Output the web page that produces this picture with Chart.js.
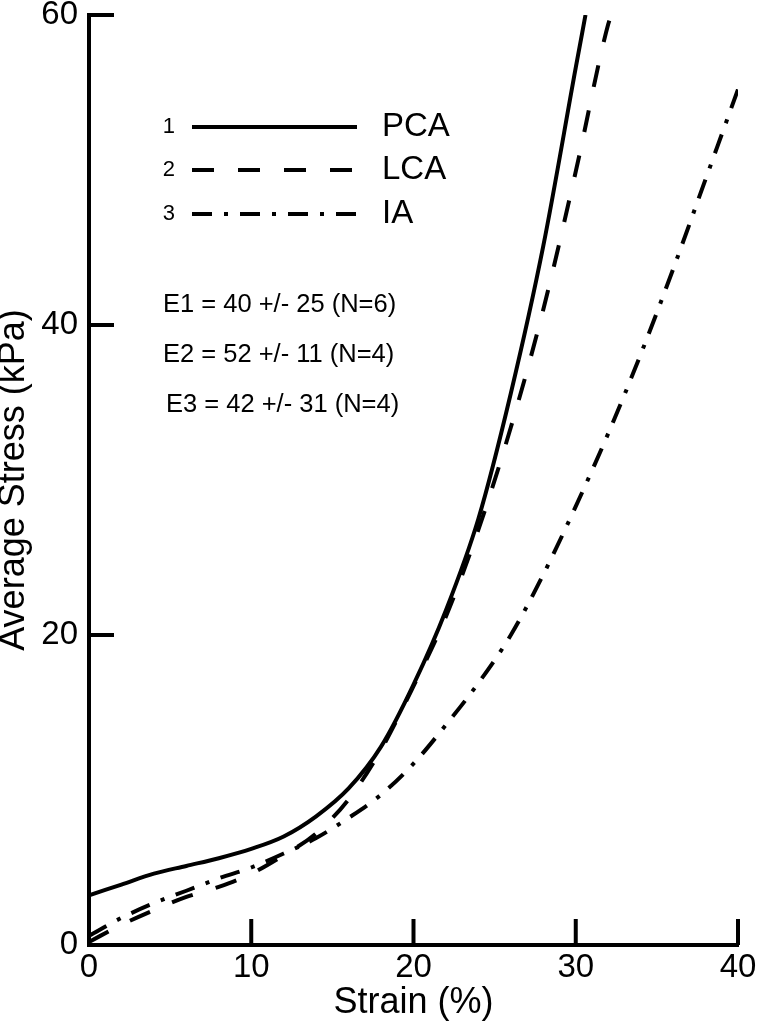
<!DOCTYPE html>
<html>
<head>
<meta charset="utf-8">
<title>Average Stress vs Strain</title>
<script src="https://cdn.jsdelivr.net/npm/chart.js@4.4.1/dist/chart.umd.min.js"></script>
<style>
  html, body { margin: 0; padding: 0; background: #fff; }
  #contenedor { width: 759px; height: 1028px; }
</style>
</head>
<body>
<div id="contenedor"><canvas id="curvasChart"></canvas></div>
<script>
// Datos (deformación en %, tensión en kPa)
const deformacionPCA = [0, 2, 4, 6, 8, 10, 12, 14, 16, 18, 20, 22, 24, 26, 28, 30, 30.6];
const tensionPCA     = [3.2, 3.9, 4.6, 5.1, 5.6, 6.2, 7.0, 8.3, 10.1, 12.8, 16.8, 21.6, 27.5, 35.6, 45.1, 56.6, 60];

const deformacionLCA = [0, 2, 4, 6, 8, 10, 12, 14, 16, 18, 20, 22, 24, 26, 28, 30, 32, 32.2];
const tensionLCA     = [0.2, 1.3, 2.25, 3.1, 3.75, 4.6, 5.8, 7.2, 9.4, 12.6, 16.7, 21.2, 26.8, 33.4, 41.0, 49.9, 59.4, 60];

const deformacionIA  = [0, 2, 4, 6, 8, 10, 12, 14, 16, 18, 20, 22, 24, 26, 28, 30, 32, 34, 36, 38, 40];
const tensionIA      = [0.6, 1.75, 2.7, 3.5, 4.3, 5.0, 5.9, 6.9, 8.2, 9.7, 11.7, 14.2, 16.9, 20.0, 23.9, 28.3, 33.0, 38.1, 43.6, 49.4, 55.2];

const nombresSeries = ['PCA', 'LCA', 'IA'];
const ticksX = [0, 10, 20, 30, 40];
const ticksY = [0, 20, 40, 60];
const notasModulo = ['E1 = 40 +/- 25 (N=6)', 'E2 = 52 +/- 11 (N=4)', 'E3 = 42 +/- 31 (N=4)'];

const FUENTE = "'Liberation Sans', Arial, Helvetica, sans-serif";

// Junta dos listas en puntos {x, y}
function puntos(xs, ys) {
    return xs.map((x, i) => ({ x: x, y: ys[i] }));
}

// Marcas de los ejes hacia dentro (mayores y menores)
const marcasEjes = {
    id: 'marcasEjes',
    afterDraw(chart) {
        const ctx = chart.ctx;
        const area = chart.chartArea;
        const ejeX = chart.scales.x;
        const ejeY = chart.scales.y;
        ctx.save();
        ctx.strokeStyle = '#000';
        ejeX.ticks.forEach(t => {
            if (t.value === 0) return;
            const mayor = ticksX.includes(t.value);
            const px = ejeX.getPixelForValue(t.value);
            ctx.lineWidth = mayor ? 4 : 1.5;
            ctx.beginPath();
            ctx.moveTo(px, area.bottom);
            ctx.lineTo(px, area.bottom - (mayor ? 26 : 14));
            ctx.stroke();
        });
        ejeY.ticks.forEach(t => {
            if (t.value === 0) return;
            const mayor = ticksY.includes(t.value);
            const py = ejeY.getPixelForValue(t.value);
            ctx.lineWidth = mayor ? 4 : 1.5;
            ctx.beginPath();
            ctx.moveTo(area.left, py);
            ctx.lineTo(area.left + (mayor ? 25 : 12), py);
            ctx.stroke();
        });
        ctx.restore();
    }
};

// Leyenda numerada y textos de módulo dentro del gráfico
const leyendaNumerada = {
    id: 'leyendaNumerada',
    afterDraw(chart) {
        const ctx = chart.ctx;
        const filas = [127, 170, 214];
        ctx.save();
        ctx.fillStyle = '#000';
        ctx.strokeStyle = '#000';
        ctx.textBaseline = 'middle';
        chart.data.datasets.forEach((ds, i) => {
            const y = filas[i];
            ctx.font = '22px ' + FUENTE;
            ctx.textAlign = 'right';
            ctx.fillText(String(i + 1), 175, y);
            ctx.setLineDash(ds.borderDash || []);
            ctx.lineWidth = 4;
            ctx.beginPath();
            ctx.moveTo(192, y);
            ctx.lineTo(357, y);
            ctx.stroke();
            ctx.setLineDash([]);
            ctx.font = '33px ' + FUENTE;
            ctx.textAlign = 'left';
            ctx.fillText(ds.label, 382, y);
        });
        ctx.font = '25.5px ' + FUENTE;
        ctx.textAlign = 'left';
        const filasE = [305, 355, 405];
        const xE = [163, 163, 166];
        notasModulo.forEach((txt, i) => ctx.fillText(txt, xE[i], filasE[i]));
        ctx.restore();
    }
};

function graficarCurvas() {
    const ctx = document.getElementById('curvasChart').getContext('2d');
    const estiloLinea = {
        borderColor: '#000',
        borderWidth: 4,
        pointRadius: 0,
        fill: false,
        cubicInterpolationMode: 'monotone'
    };
    new Chart(ctx, {
        type: 'line',
        data: {
            datasets: [
                Object.assign({ label: nombresSeries[0], data: puntos(deformacionPCA, tensionPCA), borderDash: [] }, estiloLinea),
                Object.assign({ label: nombresSeries[1], data: puntos(deformacionLCA, tensionLCA), borderDash: [22, 24] }, estiloLinea),
                Object.assign({ label: nombresSeries[2], data: puntos(deformacionIA, tensionIA), borderDash: [20, 12, 4, 12] }, estiloLinea)
            ]
        },
        options: {
            responsive: true,
            maintainAspectRatio: false,
            animation: false,
            devicePixelRatio: 1,
            layout: { padding: { top: 15, right: 21, left: 0, bottom: 0 } },
            plugins: {
                legend: { display: false },
                tooltip: { enabled: false }
            },
            scales: {
                x: {
                    type: 'linear',
                    min: 0,
                    max: 40,
                    grid: { display: false, drawTicks: false },
                    border: { display: true, color: '#000', width: 4 },
                    ticks: {
                        stepSize: 2,
                        autoSkip: false,
                        maxRotation: 0,
                        padding: 6,
                        color: '#000',
                        font: { size: 33, family: FUENTE, lineHeight: 1 },
                        callback: v => ticksX.includes(v) ? String(v) : null
                    },
                    title: {
                        display: true,
                        text: 'Strain (%)',
                        color: '#000',
                        font: { size: 36, family: FUENTE, lineHeight: 1 },
                        padding: { top: 0, bottom: 7 }
                    },
                    afterFit: s => { s.height = 83; s.paddingLeft = 0; s.paddingRight = 0; }
                },
                y: {
                    type: 'linear',
                    min: 0,
                    max: 60,
                    grid: { display: false, drawTicks: false },
                    border: { display: true, color: '#000', width: 4 },
                    ticks: {
                        stepSize: 5,
                        autoSkip: false,
                        padding: 11,
                        color: '#000',
                        font: { size: 33, family: FUENTE, lineHeight: 1 },
                        callback: v => ticksY.includes(v) ? String(v) : null
                    },
                    title: {
                        display: true,
                        text: 'Average Stress (kPa)',
                        color: '#000',
                        font: { size: 36, family: FUENTE, lineHeight: 0.8 },
                        padding: { top: 0, bottom: 0 }
                    },
                    afterFit: s => { s.width = 89; s.paddingTop = 0; s.paddingBottom = 0; }
                }
            }
        },
        plugins: [marcasEjes, leyendaNumerada]
    });
}

window.onload = function() {
    graficarCurvas();
};
</script>
</body>
</html>
